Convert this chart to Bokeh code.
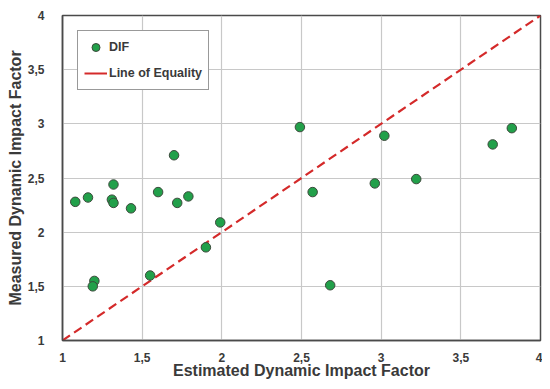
from bokeh.plotting import figure
from bokeh.models import FixedTicker, CustomJSTickFormatter, Range1d, Legend, LegendItem
from bokeh.embed import file_html
from bokeh.resources import INLINE

# Data
est_dif = [1.08, 1.16, 1.32, 1.31, 1.32, 1.43, 1.60, 1.70, 1.72, 1.79, 1.99, 1.90,
           1.55, 1.20, 1.19, 2.49, 2.57, 2.68, 2.96, 3.02, 3.22, 3.70, 3.82]
meas_dif = [2.28, 2.32, 2.44, 2.30, 2.27, 2.22, 2.37, 2.71, 2.27, 2.33, 2.09, 1.86,
            1.60, 1.55, 1.50, 2.97, 2.37, 1.51, 2.45, 2.89, 2.49, 2.81, 2.96]
equality_x = [1, 4]
equality_y = [1, 4]
ticks = [1, 1.5, 2, 2.5, 3, 3.5, 4]
x_title = "Estimated Dynamic Impact Factor"
y_title = "Measured Dynamic Impact Factor"

FONT = "Liberation Sans"
TXT = "#3a3a3a"

p = figure(width=542, height=381, output_backend="svg", toolbar_location=None,
           x_range=Range1d(1, 4), y_range=Range1d(1, 4),
           min_border_left=62, min_border_right=2, min_border_top=15, min_border_bottom=40)

p.background_fill_color = "white"
p.border_fill_color = "white"
p.outline_line_color = "#4a4a4a"
p.outline_line_width = 1.5

fmt = CustomJSTickFormatter(code="return String(tick).replace('.', ',');")
for ax in (p.xaxis[0], p.yaxis[0]):
    ax.ticker = FixedTicker(ticks=ticks)
    ax.formatter = fmt
    ax.major_tick_line_color = None
    ax.minor_tick_line_color = None
    ax.axis_line_color = "#4a4a4a"
    ax.axis_line_width = 1.5
    ax.major_label_text_font = FONT
    ax.major_label_text_font_style = "bold"
    ax.major_label_text_font_size = "12px"
    ax.major_label_text_color = TXT
    ax.axis_label_text_font = FONT
    ax.axis_label_text_font_style = "bold"
    ax.axis_label_text_font_size = "16px"
    ax.axis_label_text_color = TXT

p.yaxis[0].axis_label = y_title
p.xaxis[0].axis_label = x_title
p.xaxis[0].major_label_standoff = 6
p.xaxis[0].axis_label_standoff = -3
p.yaxis[0].major_label_standoff = 12
p.yaxis[0].axis_label_standoff = 1

for g in (p.xgrid[0], p.ygrid[0]):
    g.ticker = FixedTicker(ticks=ticks)
    g.grid_line_color = "#c8c8c8"
    g.grid_line_width = 1.2

line = p.line(equality_x, equality_y, line_color="#d42a2a", line_width=2.2, line_dash="9 5")
pts = p.scatter(est_dif, meas_dif, size=9.5, fill_color="#22a04a", line_color="#3c4a3c",
                line_width=1)

# legend line glyph (solid as in reference legend)
leg_line = p.line([None], [None], line_color="#d42a2a", line_width=2)

legend = Legend(items=[LegendItem(label="DIF", renderers=[pts]),
                       LegendItem(label="Line of Equality", renderers=[leg_line])],
                location="top_left")
legend.label_text_font = FONT
legend.label_text_font_style = "bold"
legend.label_text_font_size = "12.5px"
legend.label_text_color = TXT
legend.border_line_color = "#333333"
legend.border_line_width = 1.5
legend.background_fill_alpha = 1
legend.padding = 6
legend.spacing = 6
legend.glyph_width = 23
legend.glyph_height = 20
legend.label_height = 20
legend.label_standoff = 2
legend.margin = 15
p.add_layout(legend)

open("out.html", "w").write(file_html(p, INLINE))
